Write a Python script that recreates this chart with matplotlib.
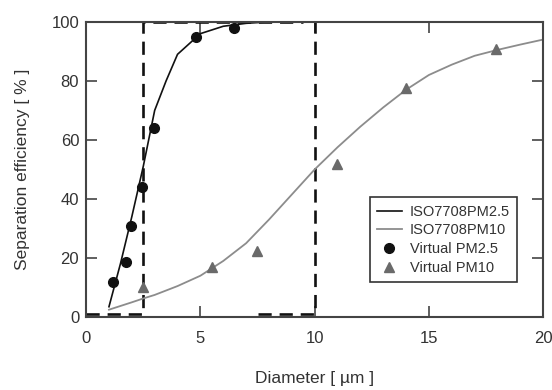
import numpy as np
import matplotlib.pyplot as plt

plt.rcParams['font.family'] = ['Liberation Sans', 'DejaVu Sans']

# ISO7708 conventions
iso25_x = [1.0, 1.5, 2.0, 2.5, 3.0, 3.5, 4.0, 5.0, 6.0, 7.0, 8.0, 10.0]
iso25_y = [3.5, 18, 34, 51, 70, 80, 89, 96, 98.5, 99.5, 100, 100]
iso10_x = [1, 2, 2.5, 3, 4, 5, 6, 7, 8, 9, 10, 11, 12, 13, 14, 15, 16, 17, 18, 19, 20]
iso10_y = [2.5, 5, 6.3, 7.5, 10.5, 14, 19, 25, 33, 41.5, 50, 57.5, 64.5, 71, 77, 82, 85.5, 88.5, 90.5, 92.3, 94]

# virtual impactor measurements
v25_x = [1.17, 1.75, 1.98, 2.46, 2.98, 4.8, 6.48]
v25_y = [11.8, 18.8, 31, 44.2, 64, 95, 98]
v10_x = [2.5, 5.5, 7.47, 10.97, 14.0, 17.94]
v10_y = [10.3, 17, 22.3, 51.9, 77.5, 90.7]

# ideal cut-off steps
cut25_x = [0, 2.5, 2.5, 9.5]
cut25_y = [1, 1, 100, 100]
cut10_x = [7.5, 10, 10]
cut10_y = [1, 1, 100]

fig = plt.figure(figsize=(5.52, 3.9), dpi=100)
ax = fig.add_axes([0.156, 0.187, 0.828, 0.757])

dash = dict(color='#111111', lw=1.9, dashes=(5, 3))
ax.plot(cut25_x, cut25_y, **dash)
ax.plot(cut10_x, cut10_y, **dash)

ax.plot(iso25_x, iso25_y, color='#111111', lw=1.2, label='ISO7708PM2.5')
ax.plot(iso10_x, iso10_y, color='#8c8c8c', lw=1.3, label='ISO7708PM10')
ax.plot(v25_x, v25_y, 'o', color='#111111', ms=7, ls='none', label='Virtual PM2.5')
ax.plot(v10_x, v10_y, '^', color='#6a6a6a', ms=7.5, ls='none', label='Virtual PM10')

ax.set_xlim(0, 20)
ax.set_ylim(0, 100)
ax.set_xticks([0, 5, 10, 15, 20])
ax.set_yticks([0, 20, 40, 60, 80, 100])

for s in ax.spines.values():
    s.set_color('#444444')
    s.set_linewidth(1.5)
ax.tick_params(direction='in', top=True, right=True, length=8, width=1.2,
               color='#444444', labelsize=12, labelcolor='#333333')
ax.tick_params(axis='x', pad=10)
ax.tick_params(axis='y', pad=5)

ax.set_xlabel('Diameter [ \u00b5m ]', fontsize=12.5, color='#333333')
ax.set_ylabel('Separation efficiency [ % ]', fontsize=12.5, color='#333333')
ax.xaxis.set_label_coords(0.5, -0.183)
ax.yaxis.set_label_coords(-0.123, 0.5)

leg = ax.legend(loc='lower right', bbox_to_anchor=(0.943, 0.119), fontsize=10.5,
                frameon=True, fancybox=False, framealpha=1, borderpad=0.5,
                labelspacing=0.32, handlelength=1.7, handletextpad=0.55,
                borderaxespad=0)
leg.get_frame().set_edgecolor('#333333')
leg.get_frame().set_linewidth(1.2)
for t in leg.get_texts():
    t.set_color('#333333')

fig.savefig('out.png', dpi=100)
